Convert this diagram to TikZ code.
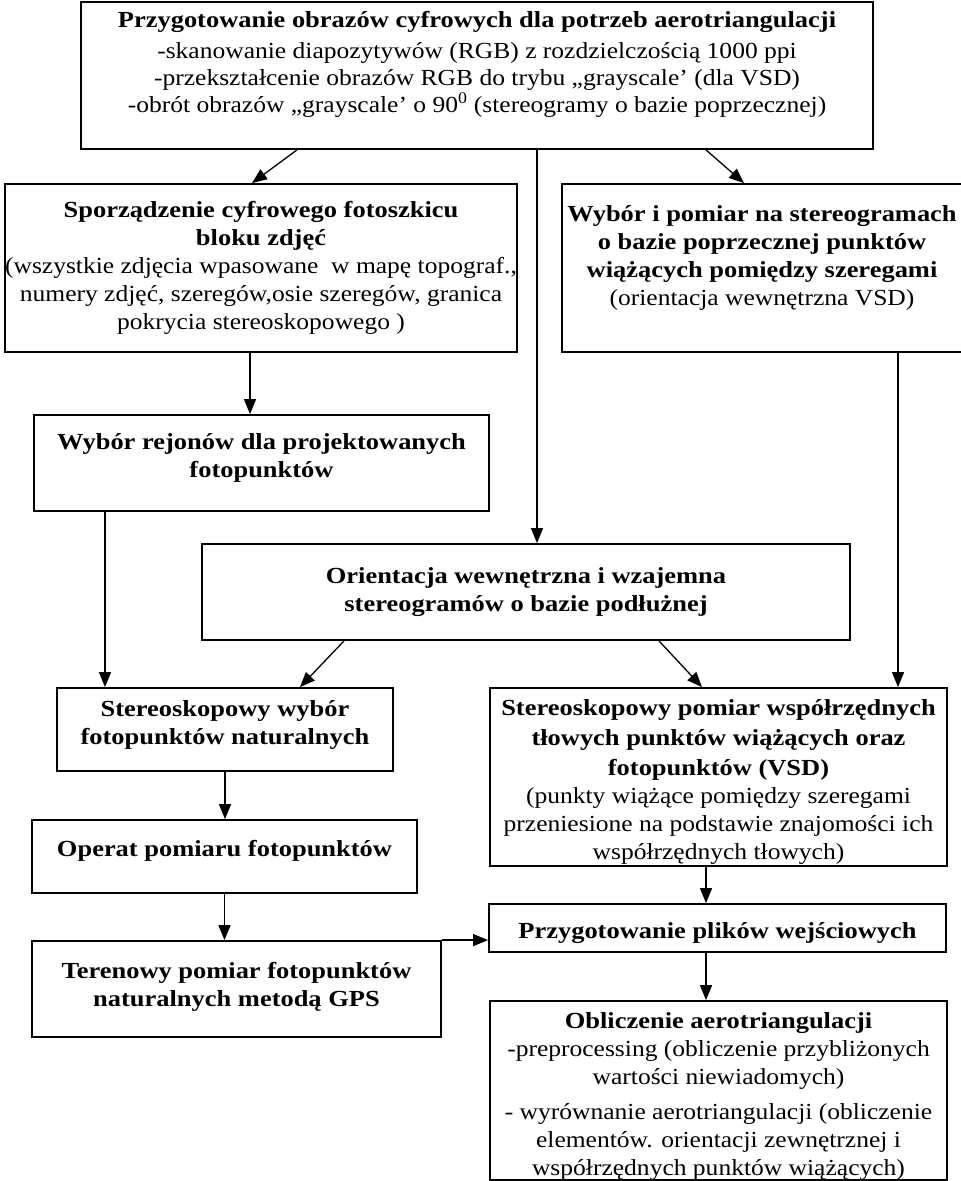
\documentclass[tikz,border=0pt]{standalone}
\usepackage{fontspec}
\setmainfont{Liberation Serif}[UprightFeatures={FakeStretch=1.11},BoldFeatures={FakeStretch=1.15}]
\usetikzlibrary{arrows.meta}
\tikzset{
  blok/.style={draw, line width=1.8pt, align=center, inner sep=0pt,
    font=\fontsize{23}{28}\selectfont},
  strz/.style={-{Triangle[length=15pt,width=12pt]}, line width=1.3pt},
}
\begin{document}
\begin{tikzpicture}[x=1pt,y=-1pt]
\useasboundingbox (0,0) rectangle (961,1181);
% first row
\node[blok, minimum width=792pt, minimum height=147pt] (prep) at (477,75.5) {\textbf{Przygotowanie obrazów cyfrowych dla potrzeb aerotriangulacji}\\[3pt]
-skanowanie diapozytywów (RGB) z rozdzielczością 1000 ppi\\[-1pt]
-przekształcenie obrazów RGB do trybu „grayscale’ (dla VSD)\\[-1pt]
-obrót obrazów „grayscale’ o 90\textsuperscript{0} (stereogramy o bazie poprzecznej)\rule[-27pt]{0pt}{0pt}};
\node[blok, minimum width=504pt, minimum height=168pt] (sketch) at (261,268) {\textbf{Sporządzenie cyfrowego fotoszkicu}\\
\textbf{bloku zdjęć}\\
(wszystkie zdjęcia wpasowane\ \ w mapę topograf.,\\
numery zdjęć, szeregów,osie szeregów, granica\\
pokrycia stereoskopowego )};
\node[blok, minimum width=400pt, minimum height=168pt] (tiepts) at (762,268) {\textbf{Wybór i pomiar na stereogramach}\\
\textbf{o bazie poprzecznej punktów}\\
\textbf{wiążących pomiędzy szeregami}\\
(orientacja wewnętrzna VSD)\rule[-24pt]{0pt}{0pt}};
% middle
\node[blok, minimum width=455pt, minimum height=96pt] (regions) at (261.5,463) {\textbf{Wybór rejonów dla projektowanych}\\
\textbf{fotopunktów}\rule[-14pt]{0pt}{0pt}};
\node[blok, minimum width=648pt, minimum height=96pt] (orient) at (526,592) {\textbf{Orientacja wewnętrzna i wzajemna}\\
\textbf{stereogramów o bazie podłużnej}};
% left column
\node[blok, minimum width=336pt, minimum height=83pt] (stsel) at (225,729.5) {\textbf{Stereoskopowy wybór}\\
\textbf{fotopunktów naturalnych}\rule[-14pt]{0pt}{0pt}};
\node[blok, minimum width=385pt, minimum height=73pt] (operat) at (224.5,856.5) {\textbf{Operat pomiaru fotopunktów}\rule[-16pt]{0pt}{0pt}};
\node[blok, minimum width=409pt, minimum height=96pt] (teren) at (236.5,989) {\textbf{Terenowy pomiar fotopunktów}\\
\textbf{naturalnych metodą GPS}\rule[-10pt]{0pt}{0pt}};
% right column
\node[blok, minimum width=457pt, minimum height=178pt] (stmeas) at (718.5,777) {\rule{0pt}{25pt}\textbf{Stereoskopowy pomiar współrzędnych}\\[2pt]
\textbf{tłowych punktów wiążących oraz}\\[2pt]
\textbf{fotopunktów (VSD)}\\
(punkty wiążące pomiędzy szeregami\\
przeniesione na podstawie znajomości ich\\
współrzędnych tłowych)};
\node[blok, minimum width=457pt, minimum height=48pt] (files) at (717.5,928) {\rule{0pt}{27pt}\textbf{Przygotowanie plików wejściowych}};
\node[blok, minimum width=457pt, minimum height=179pt] (calc) at (718.5,1090.5) {\rule{0pt}{27pt}\textbf{Obliczenie aerotriangulacji}\\
-preprocessing (obliczenie przybliżonych\\
wartości niewiadomych)\\[7pt]
- wyrównanie aerotriangulacji (obliczenie\\
elementów. orientacji zewnętrznej i\\
współrzędnych punktów wiążących)};
% connectors
\draw[strz] ([xshift=-180pt]prep.south) -- ([xshift=-9pt]sketch.north);
\draw[strz] ([xshift=229pt]prep.south) -- ([xshift=-18pt]tiepts.north);
\draw[strz] ([xshift=60pt]prep.south) -- ([xshift=60pt]prep.south |- orient.north);
\draw[strz] ([xshift=-11pt]sketch.south) -- ([xshift=-11pt]sketch.south |- regions.north);
\draw[strz] ([xshift=-156.5pt]regions.south) -- ([xshift=-156.5pt]regions.south |- stsel.north);
\draw[strz] ([xshift=-182pt]orient.south) -- ([xshift=75pt]stsel.north);
\draw[strz] ([xshift=133pt]orient.south) -- ([xshift=-16.5pt]stmeas.north);
\draw[strz] ([xshift=136pt]tiepts.south) -- ([xshift=136pt]tiepts.south |- stmeas.north);
\draw[strz] (stsel.south) -- (stsel.south |- operat.north);
\draw[strz] (operat.south) -- (operat.south |- teren.north);
\draw[strz] (teren.north east) -- (teren.north east -| files.west);
\draw[strz] ([xshift=-12.5pt]stmeas.south) -- ([xshift=-12.5pt]stmeas.south |- files.north);
\draw[strz] ([xshift=-11.5pt]files.south) -- ([xshift=-11.5pt]files.south |- calc.north);
\end{tikzpicture}
\end{document}
